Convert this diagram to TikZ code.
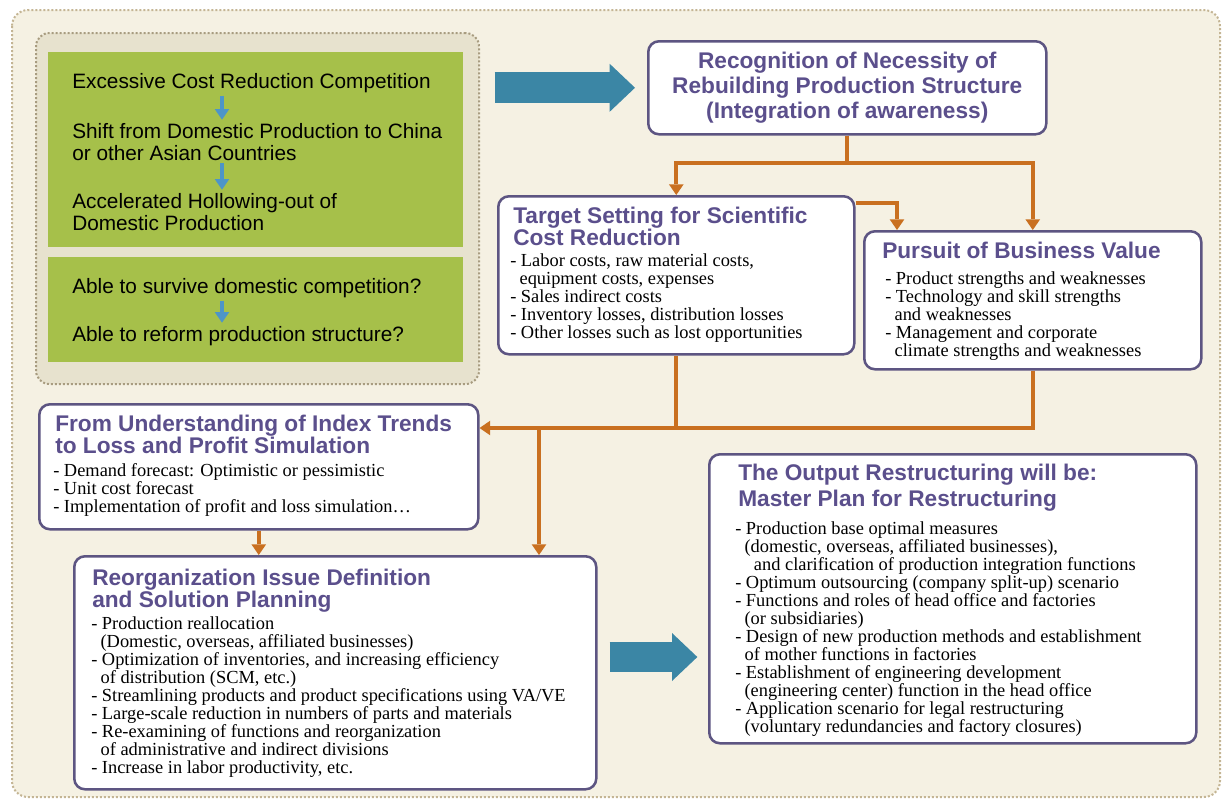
\documentclass[tikz,border=0pt]{standalone}
\usepackage{fontspec}
\setmainfont{Liberation Serif}
\setsansfont{Liberation Sans}
\usetikzlibrary{arrows.meta}

\definecolor{framebg}{HTML}{F5F1E3}
\definecolor{framedot}{HTML}{C4B594}
\definecolor{innerbg}{HTML}{E7E2CE}
\definecolor{innerdot}{HTML}{A89C80}
\definecolor{leaf}{HTML}{A6C04A}
\definecolor{boxline}{HTML}{5D5582}
\definecolor{headcol}{HTML}{5B4F8C}
\definecolor{orangeline}{HTML}{C97020}
\definecolor{bigblue}{HTML}{3B86A5}
\definecolor{smallblue}{HTML}{4D95C8}

\newcommand{\cont}{\hspace*{7pt}}

\begin{document}
\begin{tikzpicture}[x=0.75pt, y=-0.75pt,
    panel/.style={draw=boxline, line width=1.9pt, rounded corners=8pt, fill=white, inner sep=0pt, anchor=north west},
    greenbox/.style={fill=leaf, inner sep=0pt, anchor=north west},
    head/.style={anchor=north west, inner sep=0pt, align=left, text=headcol, font=\sffamily\bfseries\fontsize{17}{16.5}\selectfont},
    items/.style={anchor=north west, inner sep=0pt, align=left, font=\fontsize{13.8}{13.5}\selectfont},
    cause/.style={anchor=north west, inner sep=0pt, align=left, font=\sffamily\fontsize{15.6}{16.5}\selectfont},
    link/.style={draw=orangeline, line width=3pt},
    flow/.style={link, -{Triangle[length=8pt, width=11pt, line width=0pt]}},
    bigflow/.style={draw=bigblue, line width=23pt, -{Triangle[length=19pt, width=36pt, line width=0pt]}},
    smallflow/.style={draw=smallblue, line width=3pt, shorten <=2pt, shorten >=2.5pt, -{Triangle[length=8pt, width=11pt, line width=0pt]}}]

    \useasboundingbox (0, 0) rectangle (1227, 801);
    \draw [fill=framebg, draw=framedot, line width=1.5pt, dash pattern=on 1.5pt off 1.5pt, rounded corners=12pt] (12, 10) rectangle (1220, 797);

    % left block
    \node [draw=innerdot, fill=innerbg, line width=1.5pt, dash pattern=on 1.5pt off 1.5pt, rounded corners=10pt, inner sep=0pt, anchor=north west, minimum width=332.25pt, minimum height=263.25pt] (crisis) at (35, 32) {};
    \node [greenbox, minimum width=311.25pt, minimum height=146.25pt] (g1) at (48, 52) {};
    \node [greenbox, minimum width=311.25pt, minimum height=78.75pt] (g2) at (48, 257) {};

    \node [cause] (e1) at (72, 73) {Excessive Cost Reduction Competition};
    \node [cause] (e2) at (72, 123) {Shift from Domestic Production to China\\or other Asian Countries};
    \node [cause] (e3) at (72, 193) {Accelerated Hollowing-out of\\Domestic Production};
    \node [cause] (q1) at (72, 278) {Able to survive domestic competition?};
    \node [cause] (q2) at (72, 326) {Able to reform production structure?};

    \coordinate (ax) at (222, 0);
    \draw [smallflow] (e1.south -| ax) -- (e2.north -| ax);
    \draw [smallflow] (e2.south -| ax) -- (e3.north -| ax);
    \draw [smallflow] (q1.south -| ax) -- (q2.north -| ax);

    % boxes
    \node [panel, minimum width=298.5pt, minimum height=69.75pt] (rec) at (647, 40) {};
    \node [head, anchor=center, align=center, font=\sffamily\bfseries\fontsize{17}{19}\selectfont] (rec-text) at (rec.center) {Recognition of Necessity of\\Rebuilding Production Structure\\(Integration of awareness)};

    \node [panel, minimum width=267pt, minimum height=118.5pt] (tgt) at (497, 195) {};
    \node [head] (tgt-head) at (513, 207) {Target Setting for Scientific\\Cost Reduction};
    \node [items] (tgt-list) at (510, 253) {- Labor costs, raw material costs,\\\cont equipment costs, expenses\\- Sales indirect costs\\- Inventory losses, distribution losses\\- Other losses such as lost opportunities};

    \node [panel, minimum width=252.75pt, minimum height=103.5pt] (pbv) at (863, 230) {};
    \node [head] (pbv-head) at (882, 242) {Pursuit of Business Value};
    \node [items] (pbv-list) at (885, 271) {- Product strengths and weaknesses\\- Technology and skill strengths\\\cont and weaknesses\\- Management and corporate\\\cont climate strengths and weaknesses};

    \node [panel, minimum width=329.25pt, minimum height=93.75pt] (idx) at (38, 403) {};
    \node [head] (idx-head) at (55, 415) {From Understanding of Index Trends\\to Loss and Profit Simulation};
    \node [items] (idx-list) at (53, 463) {- Demand forecast: Optimistic or pessimistic\\- Unit cost forecast\\- Implementation of profit and loss simulation\ldots};

    \node [panel, minimum width=391.5pt, minimum height=174.75pt] (reo) at (73, 555) {};
    \node [head] (reo-head) at (92, 569) {Reorganization Issue Definition\\and Solution Planning};
    \node [items] (reo-list) at (91, 616) {- Production reallocation\\\cont (Domestic, overseas, affiliated businesses)\\- Optimization of inventories, and increasing efficiency\\\cont of distribution (SCM, etc.)\\- Streamlining products and product specifications using VA/VE\\- Large-scale reduction in numbers of parts and materials\\- Re-examining of functions and reorganization\\\cont of administrative and indirect divisions\\- Increase in labor productivity, etc.};

    \node [panel, minimum width=365.25pt, minimum height=216.75pt] (out) at (708, 453) {};
    \node [head, font=\sffamily\bfseries\fontsize{17}{19}\selectfont] (out-head) at (738, 464) {The Output Restructuring will be:\\Master Plan for Restructuring};
    \node [items] (out-list) at (735, 521) {- Production base optimal measures\\\cont (domestic, overseas, affiliated businesses),\\\cont\cont and clarification of production integration functions\\- Optimum outsourcing (company split-up) scenario\\- Functions and roles of head office and factories\\\cont (or subsidiaries)\\- Design of new production methods and establishment\\\cont of mother functions in factories\\- Establishment of engineering development\\\cont (engineering center) function in the head office\\- Application scenario for legal restructuring\\\cont (voluntary redundancies and factory closures)};

    % connectors
    \coordinate (bus) at (0, 428);
    \coordinate (split) at (539, 428);
    \coordinate (arr) at (0, 657);

    \draw [bigflow, shorten <=11pt, shorten >=9pt] (crisis.east |- rec.west) -- (rec.west);
    \draw [bigflow, shorten <=9pt, shorten >=8pt] (reo.east |- arr) -- (out.west |- arr);

    \draw [flow] (rec.south) -- ++(0, 27) -| (tgt.north);
    \draw [flow] (rec.south) -- ++(0, 27) -| (pbv.north);
    \draw [flow] ([yshift=-6pt]tgt.north east) -| ([xshift=25.5pt]pbv.north west);

    \draw [link] (tgt.south) -- (tgt.south |- bus);
    \draw [flow] (pbv.south) |- (idx.east |- bus);
    \draw [flow] (split) -- (split |- reo.north);
    \draw [flow] (idx.south) -- (idx.south |- reo.north);

\end{tikzpicture}
\end{document}
